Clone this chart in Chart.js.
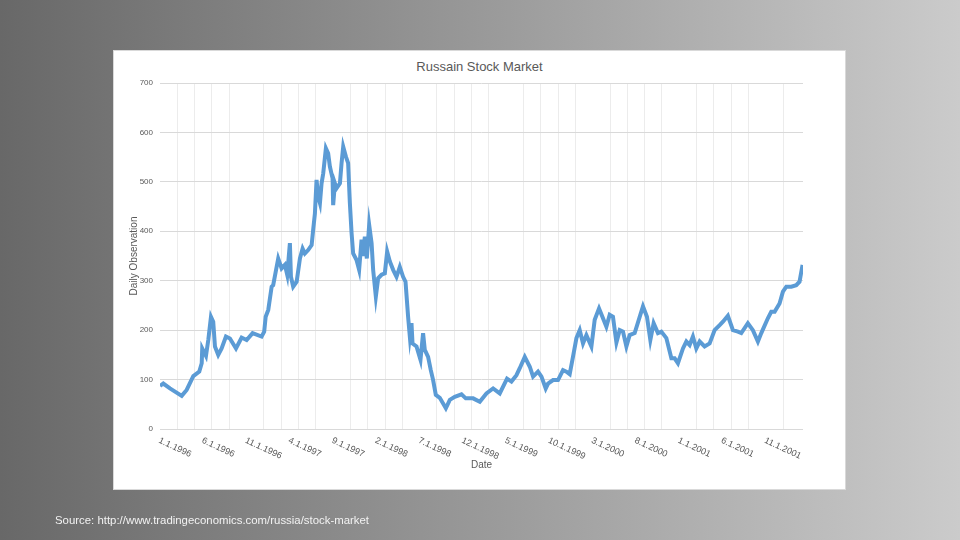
<!DOCTYPE html>
<html>
<head>
<meta charset="utf-8">
<script src="https://cdn.jsdelivr.net/npm/chart.js@4.4.1/dist/chart.umd.min.js"></script>
<style>
    html, body { margin: 0; padding: 0; }
    body {
        width: 960px; height: 540px; overflow: hidden; position: relative;
        background: linear-gradient(90deg, #686868 0%, #999999 50%, #cbcbcb 100%);
        font-family: "Liberation Sans", Arial, sans-serif;
    }
    #panel {
        position: absolute; left: 113px; top: 50px; width: 731px; height: 438px;
        background: #fff; border: 1px solid #d9d9d9;
    }
    #title {
        position: absolute; left: 113px; top: 59px; width: 733px; text-align: center;
        font-size: 13px; line-height: 16px; color: #595959;
    }
    #source {
        position: absolute; left: 55px; top: 512px;
        font-size: 11.4px; line-height: 16px; color: #f2f2f2;
    }
    #chart { position: absolute; left: 0; top: 0; }
</style>
</head>
<body>
<div id="panel"></div>
<div id="title">Russain Stock Market</div>
<canvas id="chart" width="960" height="540"></canvas>
<div id="source">Source: http://www.tradingeconomics.com/russia/stock-market</div>
<script>
// months since 1.1.1996
const months = [0, 0.38, 1.15, 2.51, 3.08, 3.85, 4.54, 4.82, 4.88, 5.31, 5.58, 5.89, 6.15, 6.35, 6.73, 7.12,
    7.62, 8.08, 8.78, 9.43, 10.01, 10.70, 11.74, 12.04, 12.21, 12.51, 12.90, 13.08, 13.66, 14.05, 14.43, 14.70,
    15.01, 15.13, 15.39, 15.79, 16.17, 16.48, 16.74, 17.12, 17.52, 17.70, 17.90, 18.09, 18.28, 18.48, 18.67,
    18.86, 19.17, 19.43, 19.63, 19.94, 20.01, 20.21, 20.40, 20.79, 20.98, 21.17, 21.48, 21.74, 21.94, 22.14,
    22.32, 22.71, 23.01, 23.29, 23.44, 23.67, 23.90, 24.17, 24.45, 24.63, 24.94, 25.21, 25.60, 25.98, 26.25,
    26.56, 26.94, 27.33, 27.71, 28.09, 28.37, 28.67, 28.87, 29.06, 29.18, 29.64, 30.10, 30.40, 30.60, 30.98,
    31.29, 31.56, 31.87, 32.33, 33.03, 33.49, 34.06, 34.84, 35.33, 36.18, 36.95, 37.72, 38.49, 39.26, 40.10,
    40.61, 41.19, 41.57, 42.15, 42.73, 43.11, 43.68, 44.08, 44.57, 44.84, 45.42, 45.99, 46.57, 46.96, 47.34,
    47.72, 48.12, 48.50, 48.88, 49.27, 49.85, 50.23, 50.73, 51.12, 51.58, 51.96, 52.34, 52.74, 53.12, 53.50,
    53.89, 54.27, 54.85, 55.43, 55.81, 56.27, 56.66, 57.04, 57.54, 57.93, 58.51, 59.09, 59.47, 59.85, 60.43,
    60.82, 61.20, 61.58, 61.97, 62.36, 62.93, 63.51, 64.09, 64.67, 65.05, 65.62, 66.20, 66.78, 67.17, 67.93,
    68.51, 69.09, 69.48, 70.24, 70.63, 71.02, 71.59, 71.98, 72.37, 72.95, 73.52, 73.90, 74.25];
const values = [87, 92, 82, 67, 79, 107, 116, 133, 163, 148, 180, 227, 217, 167, 150, 163,
    187, 183, 163, 185, 180, 194, 187, 197, 227, 241, 288, 291, 345, 325, 332, 312,
    376, 308, 288, 298, 345, 365, 355, 362, 372, 403, 436, 504, 470, 457, 497,
    517, 568, 558, 531, 507, 453, 497, 487, 497, 538, 571, 551, 538, 457, 396,
    355, 342, 322, 383, 350, 389, 345, 413, 376, 322, 268, 305, 312, 315, 359,
    339, 322, 308, 328, 308, 298, 227, 187, 214, 173, 167, 140, 194, 160, 146,
    119, 99, 69, 63, 42, 59, 65, 70, 62, 62, 55, 72, 82, 72, 102,
    96, 109, 123, 146, 126, 106, 116, 106, 82, 92, 99, 99, 119, 116, 111,
    146, 184, 200, 173, 190, 167, 221, 244, 227, 207, 231, 227, 175, 200, 197,
    167, 190, 194, 227, 248, 227, 180, 214, 194, 197, 184, 143, 143, 133, 163,
    177, 170, 187, 163, 177, 167, 173, 200, 210, 217, 229, 200, 197, 194, 214,
    200, 177, 194, 224, 237, 237, 254, 278, 288, 288, 291, 298, 332];
const tickMonths = [0, 5, 10, 15, 20, 25, 30, 35, 40, 45, 50, 55, 60, 65, 70];
const tickLabels = ['1.1.1996', '6.1.1996', '11.1.1996', '4.1.1997', '9.1.1997', '2.1.1998', '7.1.1998',
    '12.1.1998', '5.1.1999', '10.1.1999', '3.1.2000', '8.1.2000', '1.1.2001', '6.1.2001', '11.1.2001'];

const textColor = '#595959';

// rotated date labels (text runs down to the right, anchored at its start)
const dateLabels = {
    id: 'dateLabels',
    afterDraw(chart) {
        const ctx = chart.ctx;
        const xs = chart.scales.x;
        ctx.save();
        ctx.font = '9px "Liberation Sans"';
        ctx.fillStyle = textColor;
        ctx.textAlign = 'left';
        ctx.textBaseline = 'top';
        tickMonths.forEach((m, i) => {
            ctx.save();
            ctx.translate(xs.getPixelForValue(m) + 1, chart.chartArea.bottom + 7);
            ctx.rotate(25 * Math.PI / 180);
            ctx.fillText(tickLabels[i], 0, 0);
            ctx.restore();
        });
        ctx.restore();
    }
};

new Chart(document.getElementById('chart'), {
    type: 'line',
    data: {
        datasets: [{
            data: months.map((m, i) => ({ x: m, y: values[i] })),
            borderColor: '#5b9bd5',
            borderWidth: 4,
            pointRadius: 0,
            tension: 0,
            fill: false
        }]
    },
    options: {
        responsive: false,
        animation: false,
        layout: { padding: { left: 120, right: 157, top: 83, bottom: 69 } },
        plugins: { legend: { display: false }, tooltip: { enabled: false } },
        scales: {
            x: {
                type: 'linear',
                min: 0,
                max: 74.3,
                afterFit: (s) => { s.height = 42; },
                ticks: { display: false, stepSize: 2 },
                grid: {
                    drawTicks: false,
                    color: (c) => (c.tick.value % 10 === 0 || c.tick.value > 74) ? 'rgba(0,0,0,0)' : '#ececec'
                },
                border: { display: false },
                title: {
                    display: true, text: 'Date', color: textColor,
                    font: { family: 'Liberation Sans', size: 10 },
                    padding: { top: 0, bottom: 0 }
                }
            },
            y: {
                min: 0,
                max: 700,
                afterFit: (s) => { s.width = 40; },
                ticks: {
                    stepSize: 100, padding: 7, color: textColor,
                    font: { family: 'Liberation Sans', size: 8 }
                },
                grid: { drawTicks: false, color: '#d9d9d9' },
                border: { display: false },
                title: {
                    display: true, text: 'Daily Observation', color: textColor,
                    font: { family: 'Liberation Sans', size: 10 },
                    padding: { top: 8, bottom: 0 }
                }
            }
        }
    },
    plugins: [dateLabels]
});
</script>
</body>
</html>
